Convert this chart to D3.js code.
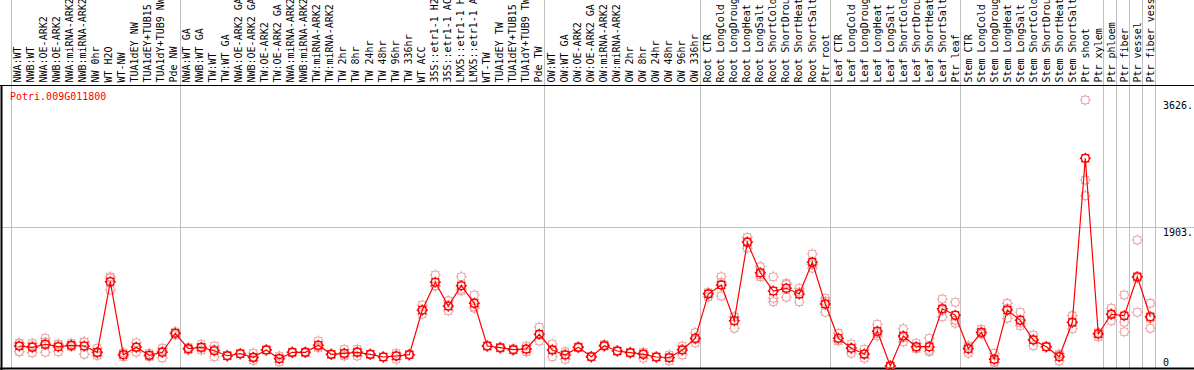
<!DOCTYPE html>
<html>
<head>
<meta charset="utf-8">
<script src="https://cdn.jsdelivr.net/npm/d3@7"></script>
<style>
  body { margin: 0; background: #fff; }
  text { font-family: "DejaVu Sans Mono", monospace; font-size: 10px; }
</style>
</head>
<body>
<svg id="chart" width="1194" height="370"></svg>
<script>
var geneId = "Potri.009G011800";

var samples = [
  "NWA:WT", "NWB:WT", "NWA:OE-ARK2", "NWB:OE-ARK2", "NWA:miRNA-ARK2", "NWB:miRNA-ARK2",
  "NW 0hr", "WT H2O", "WT-NW", "TUA1dEY NW", "TUA1dEY+TUB15 NW", "TUA1dY+TUB9 NW", "Pde NW",
  "NWA:WT GA", "NWB:WT GA", "TW:WT", "TW:WT GA", "NWA:OE-ARK2 GA", "NWB:OE-ARK2 GA",
  "TW:OE-ARK2", "TW:OE-ARK2 GA", "NWA:miRNA-ARK2", "NWB:miRNA-ARK2", "TW:miRNA-ARK2",
  "TW:miRNA-ARK2", "TW 2hr", "TW 8hr", "TW 24hr", "TW 48hr", "TW 96hr", "TW 336hr", "WT ACC",
  "35S::etr1-1 H2O", "35S::etr1-1 ACC", "LMX5::etr1-1 H2O", "LMX5::etr1-1 ACC", "WT-TW",
  "TUA1dEY TW", "TUA1dEY+TUB15 TW", "TUA1dY+TUB9 TW", "Pde TW",
  "OW:WT", "OW:WT GA", "OW:OE-ARK2", "OW:OE-ARK2 GA", "OW:miRNA-ARK2", "OW:miRNA-ARK2",
  "OW 2hr", "OW 8hr", "OW 24hr", "OW 48hr", "OW 96hr", "OW 336hr",
  "Root CTR", "Root LongCold", "Root LongDrought", "Root LongHeat", "Root LongSalt",
  "Root ShortCold", "Root ShortDrought", "Root ShortHeat", "Root ShortSalt", "Ptr root",
  "Leaf CTR", "Leaf LongCold", "Leaf LongDrought", "Leaf LongHeat", "Leaf LongSalt",
  "Leaf ShortCold", "Leaf ShortDrought", "Leaf ShortHeat", "Leaf ShortSalt", "Ptr leaf",
  "Stem CTR", "Stem LongCold", "Stem LongDrought", "Stem LongHeat", "Stem LongSalt",
  "Stem ShortCold", "Stem ShortDrought", "Stem ShortHeat", "Stem ShortSalt", "Ptr shoot",
  "Ptr xylem", "Ptr phloem", "Ptr fiber", "Ptr vessel", "Ptr fiber vessel"
];

// number of samples in each group (grey separators drawn between groups)
var groupSizes = [13, 28, 12, 10, 10, 11, 1, 1, 1, 1];

var means = [
  298, 280, 321, 288, 307, 298, 212, 1168, 180, 280, 172, 212, 470,
  261, 280, 234, 166, 193, 145, 244, 126, 212, 212, 307, 185, 199, 212, 185, 149, 162, 180,
  785, 1160, 839, 1114, 875, 298, 275, 248, 257, 456,
  244, 176, 280, 153, 302, 230, 207, 185, 149, 139, 244, 402,
  1001, 1123, 640, 1701, 1289, 1042, 1078, 1001, 1430, 866,
  402, 267, 189, 497, 27, 433, 288, 288, 802, 713,
  261, 483, 118, 785, 645, 379, 288, 153, 618, 2837, 460,
  727, 708, 1235, 694
];

var replicates = [
  [334, 221, 338], [334, 207, 300], [402, 212, 350], [325, 221, 318], [334, 288, 300],
  [356, 185, 352], [267, 199, 170], [1235, 1055, 1215], [207, 153, 180], [342, 212, 286],
  [199, 153, 165], [267, 139, 230], [491, 446, 473],
  [280, 244, 259], [321, 244, 275], [298, 153, 251], [175, 160, 163], [200, 190, 189],
  [199, 135, 101], [250, 240, 242], [162, 81, 135], [212, 220, 204], [212, 205, 219],
  [365, 280, 276], [185, 190, 180], [253, 162, 182], [253, 162, 221], [185, 180, 190],
  [150, 145, 152], [199, 118, 169], [180, 175, 185], [852, 727, 776], [1258, 1109, 1113],
  [911, 775, 831], [1235, 1042, 1065], [988, 808, 829], [298, 290, 306], [275, 285, 265],
  [262, 240, 242], [298, 221, 252], [551, 365, 452],
  [325, 153, 254], [221, 118, 189], [281, 290, 270], [153, 160, 146], [304, 320, 290],
  [230, 236, 224], [207, 215, 200], [131, 210, 214], [149, 155, 143], [176, 95, 146],
  [298, 176, 258], [478, 342, 386],
  [965, 1020, 1018], [1235, 974, 1160], [537, 690, 693], [1768, 1620, 1715], [1371, 1235, 1261],
  [1235, 943, 897], [1146, 957, 1131], [1078, 897, 1028], [1542, 1349, 1399], [943, 754, 901],
  [469, 370, 367], [325, 199, 277], [253, 131, 183], [591, 433, 467], [27, 35, 19],
  [532, 356, 411], [334, 270, 260], [402, 221, 241], [934, 694, 778], [889, 605, 645],
  [199, 302, 282], [523, 470, 456], [199, 80, 75], [875, 672, 808], [754, 573, 608],
  [446, 302, 389], [288, 295, 281], [189, 95, 175], [708, 532, 614], [3626, 2544, 2331],
  [424, 480, 476],
  [808, 640, 733], [988, 618, 491], [1732, 754, 1219], [875, 537, 670]
];

var tickValues = [0, 1903, 3626];
var tickLabels = ["0", "1903.", "3626."];

var W = 1194, H = 370;
var svg = d3.select("#chart");

var x = d3.scaleBand()
  .domain(d3.range(samples.length))
  .range([11, 11 + 13 * samples.length]);
var labelX = d3.scalePoint()
  .domain(d3.range(samples.length))
  .range([20.7, 1154.3]);
var y = d3.scaleLinear().domain([0, 3626]).range([368, 100]);

function cx(i) {
  return x(i) + 8.3;
}

// ring with small spokes, like the original bitmap markers
function marker(px, py) {
  var r = 4, s = 5.5;
  var p = d3.path();
  p.moveTo(px + r, py);
  p.arc(px, py, r, 0, 2 * Math.PI);
  for (var k = 0; k < 8; k++) {
    var a = (k * Math.PI) / 4;
    p.moveTo(px + r * Math.cos(a), py + r * Math.sin(a));
    p.lineTo(px + s * Math.cos(a), py + s * Math.sin(a));
  }
  return p.toString();
}

// grey group separators
var bounds = [0];
groupSizes.reduce(function (acc, s) {
  bounds.push(acc + s);
  return acc + s;
}, 0);
svg.append("g")
  .selectAll("line")
  .data(bounds)
  .enter()
  .append("line")
  .attr("x1", function (d) { return (d === 0 ? x(0) : x(d - 1) + x.bandwidth()) + 0.5; })
  .attr("x2", function (d) { return (d === 0 ? x(0) : x(d - 1) + x.bandwidth()) + 0.5; })
  .attr("y1", 0)
  .attr("y2", 368)
  .style("stroke", "#c0c0c0");

// mid gridline
svg.append("line")
  .attr("x1", 0).attr("x2", W)
  .attr("y1", Math.round(y(1903)) + 0.5).attr("y2", Math.round(y(1903)) + 0.5)
  .style("stroke", "#c0c0c0");

// frame
svg.append("line").attr("x1", 0).attr("x2", W).attr("y1", 85.5).attr("y2", 85.5)
  .style("stroke", "#000");
svg.append("line").attr("x1", 0).attr("x2", W).attr("y1", 368.5).attr("y2", 368.5)
  .style("stroke", "#000").style("stroke-width", 2);
svg.append("line").attr("x1", 1.5).attr("x2", 1.5).attr("y1", 85).attr("y2", 370)
  .style("stroke", "#000").style("stroke-width", 2);

// sample labels
svg.append("g")
  .selectAll("text")
  .data(samples)
  .enter()
  .append("text")
  .attr("transform", function (d, i) {
    return "translate(" + labelX(i) + ",82.5) rotate(-90)";
  })
  .style("fill", "#000")
  .text(function (d) { return d; });

// gene id
svg.append("text")
  .attr("x", 10)
  .attr("y", 100)
  .style("fill", "#ff0000")
  .text(geneId);

// y labels
svg.append("g")
  .selectAll("text")
  .data(tickValues)
  .enter()
  .append("text")
  .attr("x", 1163)
  .attr("y", function (d, i) {
    return i === 0 ? y(d) - 2 : y(d) + 9;
  })
  .text(function (d, i) { return tickLabels[i]; });

// replicates
var reps = [];
replicates.forEach(function (r, i) {
  r.forEach(function (v) { reps.push({ i: i, v: v }); });
});
svg.append("g")
  .selectAll("path")
  .data(reps)
  .enter()
  .append("path")
  .attr("d", function (d) { return marker(cx(d.i), y(d.v)); })
  .style("fill", "none")
  .style("stroke", "#eaa0a0")
  .style("stroke-width", 1.1);

// mean line
var line = d3.line()
  .x(function (d, i) { return cx(i); })
  .y(function (d) { return y(d); });
svg.append("path")
  .datum(means)
  .attr("d", line)
  .style("fill", "none")
  .style("stroke", "#ff0000")
  .style("stroke-width", 1.2);

svg.append("g")
  .selectAll("path")
  .data(means)
  .enter()
  .append("path")
  .attr("d", function (d, i) { return marker(cx(i), y(d)); })
  .style("fill", "none")
  .style("stroke", "#ff0000")
  .style("stroke-width", 1.5);
</script>
</body>
</html>
